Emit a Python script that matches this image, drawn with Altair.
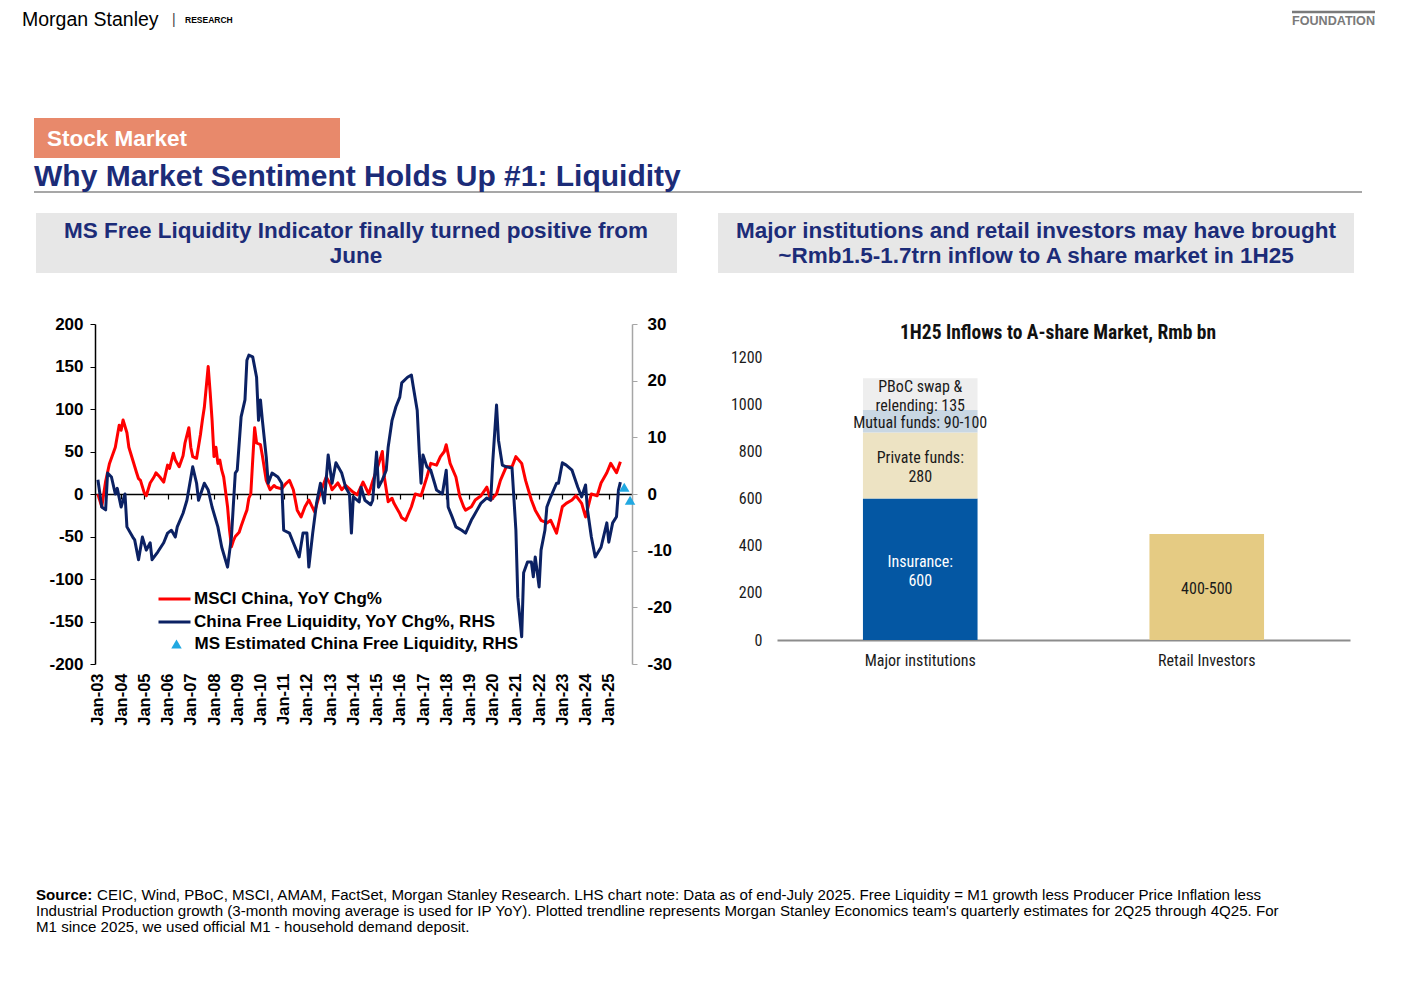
import altair as alt
import pandas as pd

# ---------------- data ----------------
msci_dates = [
    "2003-01", "2003-03", "2003-05", "2003-07", "2003-10", "2003-12", "2004-01", "2004-02",
    "2004-04", "2004-05", "2004-07", "2004-09", "2004-10", "2004-11", "2005-01", "2005-02",
    "2005-04", "2005-06", "2005-07", "2005-09", "2005-11", "2006-01", "2006-02", "2006-04",
    "2006-05", "2006-07", "2006-09", "2006-10", "2006-12", "2007-01", "2007-02", "2007-04",
    "2007-06", "2007-07", "2007-08", "2007-10", "2007-11", "2007-12", "2008-01", "2008-02",
    "2008-03", "2008-04", "2008-05", "2008-06", "2008-08", "2008-09", "2008-10", "2008-11",
    "2008-12", "2009-02", "2009-03", "2009-05", "2009-06", "2009-07", "2009-08", "2009-09",
    "2009-10", "2009-11", "2010-01", "2010-02", "2010-04", "2010-06", "2010-08", "2010-09",
    "2010-12", "2011-02", "2011-04", "2011-06", "2011-08", "2011-10", "2011-12", "2012-02",
    "2012-05", "2012-07", "2012-09", "2012-11", "2013-01", "2013-02", "2013-05", "2013-07",
    "2013-09", "2013-11", "2014-01", "2014-03", "2014-06", "2014-09", "2014-11", "2015-01",
    "2015-03", "2015-04", "2015-05", "2015-07", "2015-09", "2015-10", "2016-01", "2016-02",
    "2016-04", "2016-07", "2016-09", "2016-12", "2017-03", "2017-05", "2017-08", "2017-10",
    "2017-12", "2018-01", "2018-03", "2018-06", "2018-08", "2018-10", "2018-11", "2019-02",
    "2019-04", "2019-07", "2019-10", "2019-12", "2020-03", "2020-05", "2020-08", "2020-11",
    "2021-01", "2021-04", "2021-06", "2021-09", "2021-11", "2022-02", "2022-05", "2022-07",
    "2022-10", "2023-01", "2023-03", "2023-06", "2023-08", "2023-11", "2024-01", "2024-04",
    "2024-07", "2024-09", "2024-12", "2025-02", "2025-05", "2025-07",
]
msci_yoy = [
    0, -15, 15, 36, 55, 81, 75, 87,
    72, 55, 40, 25, 18, 16, 1, -2,
    13, 20, 25, 20, 14, 34, 30, 48,
    40, 32, 45, 60, 78, 55, 44, 42,
    70, 87, 102, 150, 120, 87, 44, 55,
    36, 40, 28, 20, -15, -42, -62, -55,
    -50, -45, -38, -25, -19, -5, 0, 40,
    78, 60, 58, 45, 16, 5, 10, 8,
    6, 12, 16, 5, -19, -27, -15, -7,
    -21, -5, 8, 20, 12, 5, 13, 5,
    10, 6, 2, -1, 14, 0, 15, 28,
    42, 50, 20, -9, -5, -11, -23, -28,
    -31, -15, 0, -2, 20, 36, 34, 44,
    50, 58, 36, 20, -3, -15, -19, -15,
    -7, -2, 8, -7, 0, 16, 32, 32,
    44, 36, 16, -7, -19, -31, -34, -31,
    -46, -15, -11, -7, -2, -11, -27, 0,
    -2, 13, 25, 36, 25, 38,
]

fl_dates = [
    "2003-01", "2003-03", "2003-05", "2003-06", "2003-08", "2003-10", "2003-11", "2004-01",
    "2004-03", "2004-04", "2004-07", "2004-08", "2004-10", "2004-12", "2005-02", "2005-04",
    "2005-05", "2005-08", "2005-11", "2006-01", "2006-03", "2006-05", "2006-06", "2006-09",
    "2006-11", "2007-02", "2007-04", "2007-05", "2007-08", "2007-10", "2007-12", "2008-03",
    "2008-05", "2008-08", "2008-10", "2008-12", "2009-01", "2009-03", "2009-05", "2009-06",
    "2009-07", "2009-09", "2009-11", "2009-12", "2010-01", "2010-02", "2010-04", "2010-05",
    "2010-07", "2010-10", "2010-12", "2011-01", "2011-04", "2011-06", "2011-09", "2011-11",
    "2012-01", "2012-02", "2012-04", "2012-06", "2012-08", "2012-10", "2012-12", "2013-02",
    "2013-04", "2013-07", "2013-09", "2013-11", "2013-12", "2014-01", "2014-04", "2014-05",
    "2014-07", "2014-10", "2014-11", "2015-01", "2015-02", "2015-04", "2015-06", "2015-07",
    "2015-09", "2015-11", "2016-01", "2016-02", "2016-05", "2016-07", "2016-08", "2016-10",
    "2016-11", "2016-12", "2017-01", "2017-03", "2017-05", "2017-07", "2017-08", "2017-11",
    "2018-01", "2018-02", "2018-04", "2018-06", "2018-09", "2018-11", "2019-02", "2019-03",
    "2019-05", "2019-07", "2019-10", "2019-12", "2020-01", "2020-03", "2020-04", "2020-06",
    "2020-08", "2020-11", "2021-01", "2021-02", "2021-04", "2021-05", "2021-07", "2021-09",
    "2021-10", "2021-11", "2022-01", "2022-02", "2022-04", "2022-05", "2022-07", "2022-10",
    "2022-11", "2023-01", "2023-03", "2023-06", "2023-09", "2023-11", "2024-01", "2024-02",
    "2024-04", "2024-06", "2024-09", "2024-12", "2025-01", "2025-03", "2025-05", "2025-06",
    "2025-07",
]
fl_yoy = [
    2.5, -2.3, -2.8, 3.7, 3.0, 0.0, 1.0, -2.3,
    0.0, -5.8, -7.6, -8.1, -11.6, -7.6, -9.9, -8.6,
    -11.6, -10.2, -8.6, -6.9, -6.4, -7.6, -5.8, -3.4,
    -1.1, 4.8, 1.9, -1.1, 1.9, 0.7, -2.3, -5.8,
    -9.4, -12.9, -7.6, 3.7, 4.2, 13.6, 16.6, 23.6,
    24.5, 24.2, 20.6, 13.0, 16.6, 13.0, 6.5, 1.9,
    3.7, 3.0, 1.9, -6.4, -6.9, -8.6, -11.1, -6.9,
    -6.9, -12.9, -6.9, -1.6, 1.9, -1.6, 6.9, 1.9,
    5.5, 3.7, 1.2, 0.0, -6.9, -0.5, -1.4, 1.2,
    -1.1, -1.9, -1.1, 7.4, 1.2, 2.5, 4.2, 8.3,
    13.0, 15.4, 17.1, 19.6, 20.6, 21.0, 18.9, 14.8,
    7.8, 1.9, 6.9, 4.8, 4.2, 1.9, 0.7, 0.0,
    4.2, -2.3, -4.0, -5.8, -6.4, -6.9, -4.6, -4.0,
    -2.8, -1.6, -0.7, -1.1, 5.5, 15.7, 9.5, 5.1,
    4.8, 4.6, -6.4, -18.2, -25.2, -13.9, -12.0, -12.0,
    -14.6, -11.1, -16.4, -9.9, -6.4, -2.3, -0.5, 1.9,
    1.9, 5.5, 5.1, 4.2, 1.2, -0.5, 1.6, -2.8,
    -7.6, -11.1, -9.4, -5.1, -8.5, -5.1, -4.0, 0.7,
    2.1,
]

est_dates = ["2025-09", "2025-12"]
est_fl = [1.2, -1.1]

series_names = [
    "MSCI China, YoY Chg%",
    "China Free Liquidity, YoY Chg%, RHS",
    "MS Estimated China Free Liquidity, RHS",
]
lhs_ticks = [-200, -150, -100, -50, 0, 50, 100, 150, 200]
rhs_ticks = [-30, -20, -10, 0, 10, 20, 30]
label_years = list(range(2003, 2026))

bar_groups = ["Major institutions", "Major institutions", "Major institutions",
              "Major institutions", "Retail Investors"]
bar_segments = ["Insurance", "Private funds", "Mutual funds", "PBoC swap & relending", "Retail"]
bar_values = [600, 280, 95, 135, 450]
bar_labels = ["Insurance:\n600", "Private funds:\n280", "Mutual funds: 90-100",
              "PBoC swap &\nrelending: 135", "400-500"]
bar_ticks = [0, 200, 400, 600, 800, 1000, 1200]

# ---------------- styling ----------------
ARIAL = "Liberation Sans, Arial, Helvetica, sans-serif"
COND = "Roboto Condensed, Liberation Sans Narrow, Roboto, sans-serif"
NAVY_T = "#1C2C78"
RED = "#FF0000"
NAVY = "#0B2163"
CYAN = "#21A8E1"
SEG_FILL = {"Insurance": "#0457A3", "Private funds": "#EDE3C3", "Mutual funds": "#C9D7E3",
            "PBoC swap & relending": "#EEEEEE", "Retail": "#E5CB83"}


def month_index(s):
    y, m = s.split("-")
    return (int(y) - 2003) * 12 + int(m) - 1


df_msci = pd.DataFrame({"month": [month_index(d) for d in msci_dates], "value": msci_yoy,
                        "series": series_names[0]})
df_fl = pd.DataFrame({"month": [month_index(d) for d in fl_dates], "value": fl_yoy,
                      "series": series_names[1]})
df_est = pd.DataFrame({"month": [month_index(d) for d in est_dates], "value": est_fl,
                       "est": series_names[2]})

bar_df = pd.DataFrame({"group": bar_groups, "segment": bar_segments, "value": bar_values,
                       "label": bar_labels})
bar_df["end"] = bar_df.groupby("group")["value"].cumsum()
bar_df["start"] = bar_df["end"] - bar_df["value"]
bar_df["mid"] = (bar_df["start"] + bar_df["end"]) / 2
bar_df["fill"] = bar_df["segment"].map(SEG_FILL)
bar_df["multi"] = bar_df["label"].str.contains("\n")

one = pd.DataFrame({"k": [0]})

# chart coordinates = page coordinates - 8
X_LINE = alt.Scale(domain=[-1.5, 276], range=[87, 624], nice=False, zero=False)
Y_LHS = alt.Scale(domain=[-200, 200], range=[656, 316], nice=False, zero=False)
Y_RHS = alt.Scale(domain=[-30, 30], range=[656, 316], nice=False, zero=False)
X_BAR = alt.Scale(domain=["Major institutions", "Retail Investors"], range=[769, 1342],
                  paddingInner=0.6, paddingOuter=0.3)
Y_BAR = alt.Scale(domain=[0, 1200], range=[632, 349], nice=False, zero=True)

year_vals = [(y - 2003) * 12 for y in label_years]
PLAIN = "'' + datum.value"

LINE_LEGEND = alt.Legend(orient="none", legendX=149, legendY=582, title=None,
                         symbolType="stroke", symbolSize=1024, symbolStrokeWidth=3,
                         clipHeight=18, rowPadding=5, labelOffset=2,
                         labelFont=ARIAL, labelFontSize=17, labelFontWeight="bold",
                         labelColor="#000", labelLimit=500, padding=0)


def txt(t, x, y, size, weight="normal", color="#000", align="left", font=ARIAL,
        baseline="middle"):
    return alt.Chart(one).mark_text(text=t, align=align, baseline=baseline, font=font,
                                    fontSize=size, fontWeight=weight, color=color).encode(
        x=alt.value(x), y=alt.value(y))


def box(x, x2, y, y2, color):
    return alt.Chart(one).mark_rect(color=color).encode(
        x=alt.value(x), x2=alt.value(x2), y=alt.value(y), y2=alt.value(y2))


def hline(x, x2, y, color, w):
    return alt.Chart(one).mark_rule(color=color, strokeWidth=w).encode(
        x=alt.value(x), x2=alt.value(x2), y=alt.value(y))


FOOT = 15.1
deco = [
    # page header
    txt("Morgan Stanley", 14, 12, 19.5),
    txt("|", 164, 12, 14, color="#444"),
    txt("RESEARCH", 177, 12, 8.5, weight="bold"),
    hline(1284, 1367, 4, "#7a7a7a", 2.5),
    txt("FOUNDATION", 1367, 13, 12.6, weight="bold", color="#7a7a7a", align="right"),
    box(26, 332, 110, 150, "#E8896B"),
    txt("Stock Market", 39, 131, 22.5, weight="bold", color="#FFFFFF"),
    hline(26, 1354, 184, "#8A8A8A", 1.5),
    txt("Why Market Sentiment Holds Up #1: Liquidity", 26, 178, 30, weight="bold",
        color=NAVY_T, baseline="alphabetic"),
    # panel headings
    box(28, 669, 205, 265, "#E7E7E7"),
    txt("MS Free Liquidity Indicator finally turned positive from", 348, 223, 22.5,
        weight="bold", color=NAVY_T, align="center"),
    txt("June", 348, 248, 22.5, weight="bold", color=NAVY_T, align="center"),
    box(710, 1346, 205, 265, "#E7E7E7"),
    txt("Major institutions and retail investors may have brought", 1028, 223, 22.5,
        weight="bold", color=NAVY_T, align="center"),
    txt("~Rmb1.5-1.7trn inflow to A share market in 1H25", 1028, 248, 22.5,
        weight="bold", color=NAVY_T, align="center"),
    # right chart title
    txt("1H25 Inflows to A-share Market, Rmb bn", 1050, 325, 19.5, weight="bold",
        color="#111", align="center", font=COND),
    # footer
    txt("Source:", 28, 887, FOOT, weight="bold"),
    txt("CEIC, Wind, PBoC, MSCI, AMAM, FactSet, Morgan Stanley Research. LHS chart note: "
        "Data as of end-July 2025. Free Liquidity = M1 growth less Producer Price Inflation less",
        89, 887, FOOT),
    txt("Industrial Production growth (3-month moving average is used for IP YoY). Plotted "
        "trendline represents Morgan Stanley Economics team's quarterly estimates for 2Q25 "
        "through 4Q25. For", 28, 903, FOOT),
    txt("M1 since 2025, we used official M1 - household demand deposit.", 28, 919, FOOT),
]

AX_FONT = dict(labelFont=ARIAL, labelFontSize=17, labelFontWeight="bold", labelColor="#000",
               grid=False, title=None, labelExpr=PLAIN)

red = alt.Chart(df_msci).mark_line(strokeWidth=3, strokeJoin="round").encode(
    x=alt.X("month:Q", scale=X_LINE,
            axis=alt.Axis(orient="bottom", offset=-489, values=year_vals, labels=False,
                          ticks=True, tickSize=5, tickColor="#000", tickWidth=1.2,
                          domainColor="#000", domainWidth=1.5, grid=False, title=None)),
    y=alt.Y("value:Q", scale=Y_LHS,
            axis=alt.Axis(orient="left", offset=-87, values=lhs_ticks, tickSize=5,
                          tickColor="#000", domainColor="#000", domainWidth=1.5,
                          labelPadding=7, **AX_FONT)),
    color=alt.Color("series:N", scale=alt.Scale(domain=series_names[:2], range=[RED, NAVY]),
                    legend=LINE_LEGEND),
)

blue = alt.Chart(df_fl).mark_line(strokeWidth=3, strokeJoin="round").encode(
    x=alt.X("month:Q", scale=X_LINE,
            axis=alt.Axis(orient="bottom", offset=-319, values=year_vals, domain=False,
                          ticks=False, labelAngle=270, labelPadding=9, labelOverlap=False,
                          labelFlush=False,
                          labelExpr="'Jan-' + (datum.value/12 + 3 < 10 ? '0' : '') + (datum.value/12 + 3)",
                          labelFont=ARIAL, labelFontSize=16.5, labelFontWeight="bold",
                          labelColor="#000", grid=False, title=None)),
    y=alt.Y("value:Q", scale=Y_RHS,
            axis=alt.Axis(orient="right", offset=-777, values=rhs_ticks, tickSize=5,
                          tickColor="#A6A6A6", domainColor="#A6A6A6", domainWidth=1.5,
                          labelPadding=10, **AX_FONT)),
    color=alt.Color("series:N", scale=alt.Scale(domain=series_names[:2], range=[RED, NAVY]),
                    legend=LINE_LEGEND),
)

tri = alt.Chart(df_est).mark_point(filled=True, size=110, opacity=1, color=CYAN).encode(
    x=alt.X("month:Q", scale=X_LINE, axis=None),
    y=alt.Y("value:Q", scale=Y_RHS, axis=None),
    shape=alt.Shape("est:N", scale=alt.Scale(domain=[series_names[2]], range=["triangle-up"]),
                    legend=alt.Legend(orient="none", legendX=160, legendY=627, title=None,
                                      symbolSize=110, symbolFillColor=CYAN,
                                      symbolStrokeColor=CYAN, clipHeight=18, labelOffset=9.5,
                                      labelFont=ARIAL, labelFontSize=17,
                                      labelFontWeight="bold", labelColor="#000",
                                      labelLimit=500, padding=0)),
)

BAR_FS = 16
bars = alt.Chart(bar_df).mark_bar(strokeWidth=0).encode(
    x=alt.X("group:N", scale=X_BAR, sort=None,
            axis=alt.Axis(orient="bottom", offset=-343, domainColor="#8C8C8C", domainWidth=2,
                          ticks=False, labelAngle=0, labelPadding=12, labelFont=COND,
                          labelFontSize=BAR_FS, labelColor="#1a1a1a", grid=False, title=None)),
    y=alt.Y("start:Q", scale=Y_BAR,
            axis=alt.Axis(orient="left", offset=-754, values=bar_ticks, domain=False,
                          ticks=False, tickSize=0, labelPadding=0, labelFont=COND,
                          labelFontSize=BAR_FS, labelColor="#1a1a1a", grid=False, title=None,
                          labelExpr=PLAIN)),
    y2="end:Q",
    fill=alt.Fill("fill:N", scale=None, legend=None),
)


def bar_text(filt, color, dy):
    return alt.Chart(bar_df).transform_filter(filt).mark_text(
        font=COND, fontSize=BAR_FS, lineBreak="\n", lineHeight=19, color=color, dy=dy).encode(
        x=alt.X("group:N", scale=X_BAR, axis=None),
        y=alt.Y("mid:Q", scale=Y_BAR, axis=None),
        text="label:N",
    )


txt_white = bar_text("datum.segment == 'Insurance'", "#FFFFFF", -7)
txt_dark_multi = bar_text("datum.segment != 'Insurance' && datum.multi", "#1a1a1a", -7)
txt_dark_single = bar_text("datum.segment != 'Insurance' && !datum.multi", "#1a1a1a", 2)

chart = alt.layer(*deco, red, blue, tri, bars, txt_white, txt_dark_multi,
                  txt_dark_single).resolve_scale(
    x="independent", y="independent"
).properties(
    width=1401, height=975, padding=0,
    autosize=alt.AutoSizeParams(type="none"),
).configure_view(stroke="transparent")

chart.save("out.html", embed_options={"renderer": "svg", "actions": False})
